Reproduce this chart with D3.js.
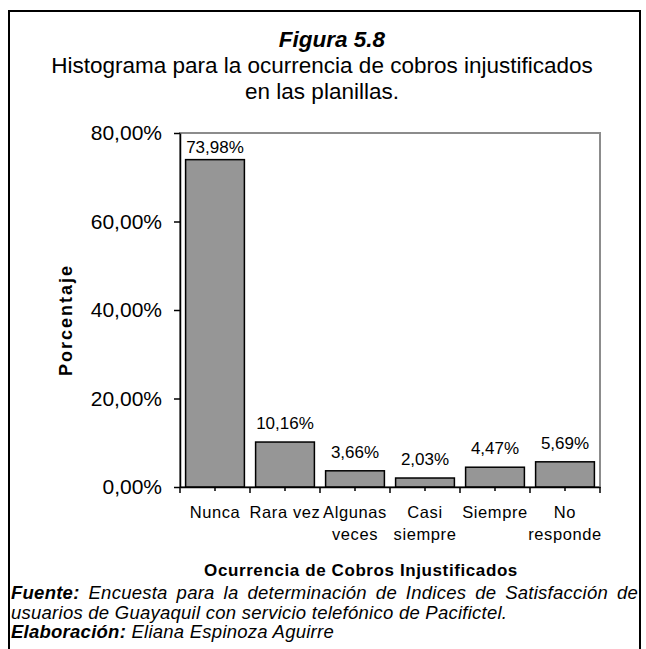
<!DOCTYPE html>
<html>
<head>
<meta charset="utf-8">
<script src="https://cdn.jsdelivr.net/npm/d3@7"></script>
<style>
  body { margin: 0; background: #fff; }
  text { font-family: "Liberation Sans", Arial, sans-serif; fill: #000; }
</style>
</head>
<body>
<div id="chart"></div>
<script>
var categories = ["Nunca", "Rara vez", "Algunas veces", "Casi siempre", "Siempre", "No responde"];
var categoryLines = [["Nunca"], ["Rara vez"], ["Algunas", "veces"], ["Casi", "siempre"], ["Siempre"], ["No", "responde"]];
var percentages = [73.98, 10.16, 3.66, 2.03, 4.47, 5.69];
var yTicks = [0, 20, 40, 60, 80];

var width = 646,
    height = 649,
    plot = {left: 180, right: 600, top: 133, bottom: 487};

var svg = d3.select("#chart")
  .append("svg")
  .attr("width", width)
  .attr("height", height);

// outer frame (open at the bottom)
svg.append("path")
  .attr("d", "M9,649 V11 H640 V649")
  .attr("fill", "none")
  .attr("stroke", "#000")
  .attr("stroke-width", 2);

// titles
svg.append("text")
  .attr("x", 332).attr("y", 47)
  .attr("text-anchor", "middle")
  .style("font-size", "22.5px").style("font-weight", "bold").style("font-style", "italic")
  .text("Figura 5.8");
svg.append("text")
  .attr("x", 322).attr("y", 73)
  .attr("text-anchor", "middle")
  .style("font-size", "22.5px")
  .text("Histograma para la ocurrencia de cobros injustificados");
svg.append("text")
  .attr("x", 322).attr("y", 99)
  .attr("text-anchor", "middle")
  .style("font-size", "22.5px")
  .text("en las planillas.");

var x = d3.scaleBand()
  .domain(categories)
  .range([plot.left, plot.right])
  .paddingInner(0.16)
  .paddingOuter(0.08);
var y = d3.scaleLinear().domain([0, 80]).range([plot.bottom, plot.top]);

// plot area border
svg.append("rect")
  .attr("x", plot.left).attr("y", plot.top)
  .attr("width", plot.right - plot.left).attr("height", plot.bottom - plot.top)
  .attr("fill", "none")
  .attr("stroke", "#8c8c8c")
  .attr("stroke-width", 2);

// bars
svg.selectAll(".bar")
  .data(percentages)
  .enter().append("rect")
  .attr("class", "bar")
  .attr("x", (d, i) => x(categories[i]))
  .attr("y", d => y(d))
  .attr("width", x.bandwidth())
  .attr("height", d => y(0) - y(d))
  .attr("fill", "#969696")
  .attr("stroke", "#000")
  .attr("stroke-width", 1.5);

// value labels
var fmt = d => d3.format(".2f")(d).replace(".", ",") + "%";
svg.selectAll(".val")
  .data(percentages)
  .enter().append("text")
  .attr("class", "val")
  .attr("x", (d, i) => x(categories[i]) + x.bandwidth() / 2)
  .attr("y", d => Math.max(y(d) - 13, plot.top + 20))
  .attr("text-anchor", "middle")
  .style("font-size", "17px")
  .text(fmt);

// y axis
var yAxis = svg.append("g")
  .attr("transform", `translate(${plot.left},0)`)
  .call(d3.axisLeft(y).tickValues(yTicks).tickSize(6).tickSizeOuter(0).tickPadding(12).tickFormat(fmt));
yAxis.selectAll("text").style("font-size", "21px").attr("fill", "#000");
yAxis.selectAll("line, path").attr("stroke", "#000").attr("stroke-width", 1.5);

// x axis: minor ticks at centres, major ticks at boundaries
var xAxis = svg.append("g")
  .attr("transform", `translate(0,${plot.bottom})`)
  .call(d3.axisBottom(x).tickSize(4).tickSizeOuter(0).tickFormat(""));
xAxis.selectAll("line, path").attr("stroke", "#000").attr("stroke-width", 1.5);
var bounds = categories.map(c => x(c) - x.step() * x.paddingInner() / 2).concat([plot.right]);
xAxis.selectAll(".major")
  .data(bounds)
  .enter().append("line")
  .attr("class", "major")
  .attr("x1", d => d).attr("x2", d => d)
  .attr("y1", 0).attr("y2", 6)
  .attr("stroke", "#000").attr("stroke-width", 1.5);

// category labels
var catText = svg.selectAll(".cat")
  .data(categoryLines)
  .enter().append("text")
  .attr("class", "cat")
  .attr("text-anchor", "middle")
  .style("font-size", "16.5px")
  .style("letter-spacing", "0.6px");
catText.selectAll("tspan")
  .data((d, i) => d.map(t => ({t: t, c: categories[i]})))
  .enter().append("tspan")
  .attr("x", d => x(d.c) + x.bandwidth() / 2)
  .attr("y", (d, j) => 518 + j * 22)
  .text(d => d.t);

// axis titles
svg.append("text")
  .attr("x", 361).attr("y", 576)
  .attr("text-anchor", "middle")
  .style("font-size", "17px").style("font-weight", "bold").style("letter-spacing", "0.6px")
  .text("Ocurrencia de Cobros Injustificados");
svg.append("text")
  .attr("transform", "translate(72,320) rotate(-90)")
  .attr("text-anchor", "middle")
  .style("font-size", "18px").style("font-weight", "bold").style("letter-spacing", "2px")
  .text("Porcentaje");

// footer
var footSize = "18.5px", footSpacing = "0.25px";
var f1 = svg.append("text").attr("x", 11).attr("y", 599)
  .style("font-size", footSize).style("font-style", "italic").style("letter-spacing", footSpacing);
f1.append("tspan").style("font-weight", "bold").text("Fuente:");
f1.append("tspan").text(" Encuesta para la determinación de Indices de Satisfacción de");
var natural = f1.node().getComputedTextLength();
var spaces = (f1.text().match(/ /g) || []).length;
f1.style("word-spacing", Math.max(0, (638 - 11 - natural) / spaces) + "px");

svg.append("text").attr("x", 11).attr("y", 619)
  .style("font-size", footSize).style("font-style", "italic").style("letter-spacing", footSpacing)
  .text("usuarios de Guayaquil con servicio telefónico de Pacifictel.");
var f3 = svg.append("text").attr("x", 11).attr("y", 638)
  .style("font-size", footSize).style("font-style", "italic").style("letter-spacing", footSpacing);
f3.append("tspan").style("font-weight", "bold").text("Elaboración:");
f3.append("tspan").text(" Eliana Espinoza Aguirre");
</script>
</body>
</html>
